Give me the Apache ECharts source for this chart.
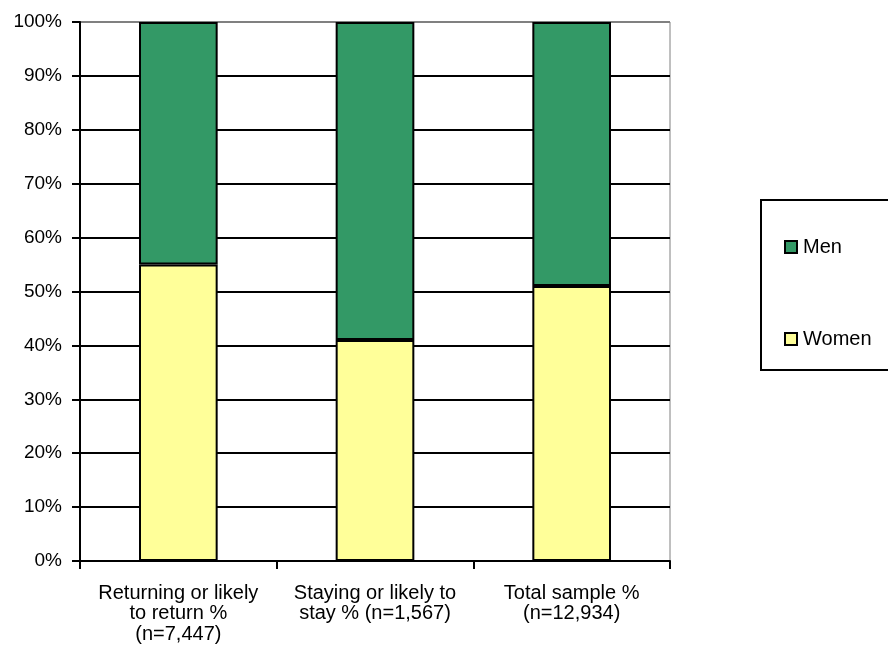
<!DOCTYPE html>
<html>
<head>
<meta charset="utf-8">
<script src="https://cdn.jsdelivr.net/npm/echarts@6/dist/echarts.min.js"></script>
<style>
  html, body { margin: 0; padding: 0; background: #fff; }
  #chart { width: 888px; height: 660px; }
</style>
</head>
<body>
<div id="chart"></div>
<script>
// Share of respondents by sex in each group (percent)
const categories = [
  'Returning or likely\nto return %\n(n=7,447)',
  'Staying or likely to\nstay % (n=1,567)',
  'Total sample %\n(n=12,934)'
];
const women = [55, 41, 51];
const men = [45, 59, 49];
const yTicks = [0, 10, 20, 30, 40, 50, 60, 70, 80, 90, 100];

const FONT = 'Liberation Sans, Arial, sans-serif';

// Grid lines are black, except the top border which is grey like the frame
const splitColors = yTicks.map((v, i) => (i === yTicks.length - 1 ? '#808080' : '#000'));

const chart = echarts.init(document.getElementById('chart'), null, { renderer: 'canvas' });
chart.setOption({
  animation: false,
  backgroundColor: '#fff',
  grid: {
    left: 80, right: 218, top: 22, bottom: 99,
    show: true, borderColor: '#808080', borderWidth: 1, backgroundColor: 'transparent'
  },
  xAxis: {
    type: 'category',
    data: categories,
    boundaryGap: true,
    axisLine: { lineStyle: { color: '#000', width: 2 } },
    axisTick: { show: true, alignWithLabel: false, length: 8, lineStyle: { color: '#000', width: 2 } },
    axisLabel: {
      interval: 0, margin: 22, color: '#000', fontFamily: FONT, fontSize: 20,
      lineHeight: 20.5, align: 'center', verticalAlign: 'top'
    }
  },
  yAxis: {
    type: 'value',
    min: 0, max: 100, interval: 10,
    axisLine: { show: true, lineStyle: { color: '#000', width: 2 } },
    axisTick: { show: true, length: 8, lineStyle: { color: '#000', width: 2 } },
    axisLabel: { formatter: v => v + '%', color: '#000', fontFamily: FONT, fontSize: 19, margin: 18 },
    splitLine: { show: true, lineStyle: { color: splitColors, width: 2 } }
  },
  legend: {
    orient: 'vertical',
    left: 784, top: 237,
    padding: 0,
    itemGap: 72,
    itemWidth: 12, itemHeight: 12,
    icon: 'rect',
    data: ['Men', 'Women'],
    itemStyle: { borderColor: '#000', borderWidth: 2 },
    textStyle: { color: '#000', fontFamily: FONT, fontSize: 20, lineHeight: 20, padding: [0, 0, 0, 1] }
  },
  graphic: [{
    type: 'rect',
    shape: { x: 761, y: 200, width: 140, height: 170 },
    style: { fill: 'none', stroke: '#000', lineWidth: 2 },
    z: 0
  }],
  series: [
    {
      name: 'Women', type: 'bar', stack: 'sex', data: women, barWidth: '40%',
      itemStyle: { color: '#FFFF99', borderColor: '#000', borderWidth: 2 }
    },
    {
      name: 'Men', type: 'bar', stack: 'sex', data: men, barWidth: '40%',
      itemStyle: { color: '#339966', borderColor: '#000', borderWidth: 2 }
    }
  ]
});
</script>
</body>
</html>
